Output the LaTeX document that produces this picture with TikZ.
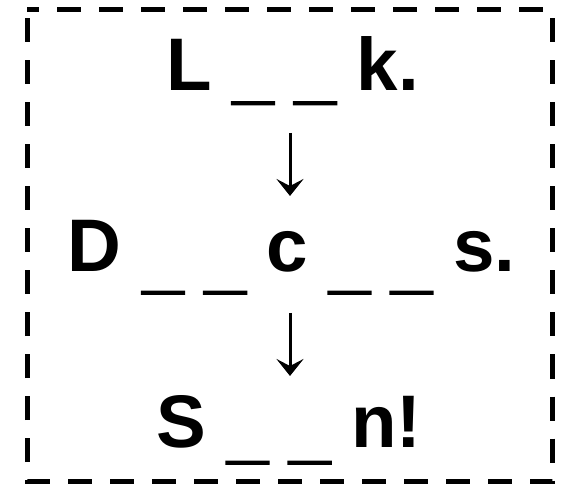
\documentclass[tikz,border=0pt]{standalone}
\usepackage{fontspec}
\setmainfont{Liberation Sans}
\newfontfamily\blankfont{Liberation Sans Bold}[RawFeature={embolden=2}]
\usetikzlibrary{arrows.meta, calc, positioning}
\newcommand{\blank}[1][13pt]{\raisebox{-#1}{\blankfont\_}}
\tikzset{word/.style={font=\bfseries\fontsize{74.5}{74.5}\selectfont, inner sep=0pt, anchor=base}}
\tikzset{link/.style={color=black, line width=3pt, -{Stealth[length=17pt, width=27pt, inset=7pt]}}}
\tikzset{frame/.style={color=black, line width=5pt, dash pattern=on 24pt off 18pt, dash phase=12pt}}

\begin{document}
\begin{tikzpicture}[x=1pt, y=-1pt]
        \useasboundingbox (0, 0) rectangle (565, 486);

        \coordinate (Ftl) at (27, 10);
        \coordinate (Ftr) at (552.5, 10);
        \coordinate (Fbr) at (552.5, 481.5);
        \coordinate (Fbl) at (27, 481.5);
        \draw [frame] (Ftl) -- (Ftr) -- (Fbr) -- (Fbl) -- cycle;

        \node[word] (Wa) at (292.5, 91) {L \blank[4.5pt]{} \blank[4.5pt]{} k.};
        \node[word] (Wb) at (291.5, 272) {D \blank{} \blank{} c \blank{} \blank{} s.};
        \node[word] (Wc) at (289, 447) {S \blank[8pt]{} \blank[8pt]{} n!};

        \draw [link] ([yshift=-42pt]Wa.base -| 290, 0) -- ([yshift=76pt]Wb.base -| 290, 0);
        \draw [link] ([yshift=-41pt]Wb.base -| 290, 0) -- ([yshift=71pt]Wc.base -| 290, 0);
\end{tikzpicture}
\end{document}
